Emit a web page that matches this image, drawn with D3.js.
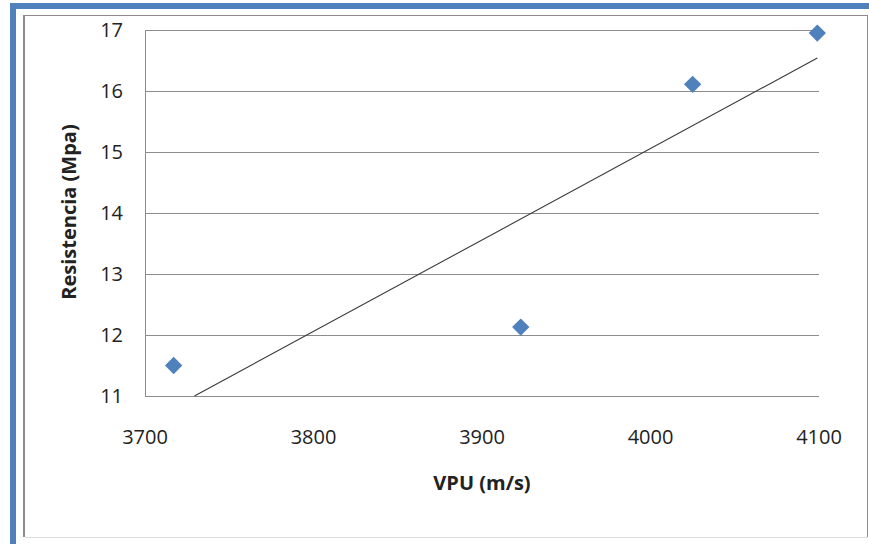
<!DOCTYPE html>
<html>
<head>
<meta charset="utf-8">
<script src="https://cdn.jsdelivr.net/npm/d3@7"></script>
<style>
  body { margin: 0; background: #fff; }
  svg { display: block; }
  text { font-family: "Open Sans", Lato, sans-serif; fill: #222; }
</style>
</head>
<body>
<div id="chart"></div>
<script>
// data
var vpu = [3717, 3923, 4025, 4099]
var resistencia = [11.5, 12.13, 16.11, 16.95]
var xTicks = [3700, 3800, 3900, 4000, 4100]
var yTicks = [11, 12, 13, 14, 15, 16, 17]

var W = 869
var H = 544
var margin = { top: 30, left: 145, right: 50, bottom: 148 }
var width = W - margin.left - margin.right
var height = H - margin.top - margin.bottom

var svg = d3.select('#chart')
  .append('svg')
  .attr('width', W)
  .attr('height', H)

// blue frame + gray chart frame
svg.append('rect').attr('x', 10).attr('y', 3).attr('width', W - 10).attr('height', 6).attr('fill', '#4F81BD')
svg.append('rect').attr('x', 10).attr('y', 3).attr('width', 6).attr('height', H - 3).attr('fill', '#4F81BD')
svg.append('line').attr('x1', 24).attr('x2', 24).attr('y1', 15).attr('y2', 537).attr('stroke', '#8c8c8c').attr('stroke-width', 2)
svg.append('line').attr('x1', 23).attr('x2', 868).attr('y1', 15.5).attr('y2', 15.5).attr('stroke', '#8c8c8c')
svg.append('line').attr('x1', 867.5).attr('x2', 867.5).attr('y1', 15).attr('y2', 537).attr('stroke', '#8c8c8c')
svg.append('line').attr('x1', 25).attr('x2', 868).attr('y1', 537.5).attr('y2', 537.5).attr('stroke', '#dcdcdc')

var g = svg.append('g').attr('transform', `translate(${margin.left},${margin.top})`)

var x = d3.scaleLinear().domain([3700, 4100]).range([0, width])
var y = d3.scaleLinear().domain([11, 17]).range([height, 0])

// gridlines
g.append('g')
  .selectAll('line')
  .data(yTicks)
  .enter()
  .append('line')
  .attr('x1', 0)
  .attr('x2', width)
  .attr('y1', d => Math.round(y(d)) + 0.5)
  .attr('y2', d => Math.round(y(d)) + 0.5)
  .attr('stroke', '#8c8c8c')

g.append('line')
  .attr('x1', 0.5).attr('x2', 0.5)
  .attr('y1', 0).attr('y2', height + 0.5)
  .attr('stroke', '#8c8c8c')

// tick labels
g.append('g')
  .selectAll('text')
  .data(yTicks)
  .enter()
  .append('text')
  .attr('x', -22)
  .attr('y', d => y(d))
  .attr('dy', '0.36em')
  .attr('text-anchor', 'end')
  .attr('font-size', 20)
  .text(d => d)

g.append('g')
  .selectAll('text')
  .data(xTicks)
  .enter()
  .append('text')
  .attr('x', d => x(d))
  .attr('y', height + 48)
  .attr('text-anchor', 'middle')
  .attr('font-size', 20)
  .text(d => d)

// linear trendline from least squares
var mx = d3.mean(vpu)
var my = d3.mean(resistencia)
var sxy = d3.sum(vpu, (v, i) => (v - mx) * (resistencia[i] - my))
var sxx = d3.sum(vpu, v => (v - mx) * (v - mx))
var slope = sxy / sxx
var icpt = my - slope * mx
var x0 = Math.max(d3.min(vpu), (11 - icpt) / slope)
var x1 = d3.max(vpu)

g.append('path')
  .attr('d', d3.line()([[x(x0), y(slope * x0 + icpt)], [x(x1), y(slope * x1 + icpt)]]))
  .attr('stroke', '#3a3a3a')
  .attr('stroke-width', 1.1)
  .attr('fill', 'none')

// diamond markers
var diamond = d3.symbol().type(d3.symbolSquare).size(150)
g.append('g')
  .selectAll('path')
  .data(vpu)
  .enter()
  .append('path')
  .attr('d', diamond)
  .attr('transform', (d, i) => `translate(${x(d)},${y(resistencia[i])}) rotate(45)`)
  .attr('fill', '#4F81BD')

// axis titles
svg.append('text')
  .attr('x', 482)
  .attr('y', 490)
  .attr('text-anchor', 'middle')
  .attr('font-size', 20)
  .attr('font-weight', 'bold')
  .text('VPU (m/s)')

svg.append('text')
  .attr('transform', 'translate(76,212) rotate(-90)')
  .attr('text-anchor', 'middle')
  .attr('font-size', 20)
  .attr('font-weight', 'bold')
  .text('Resistencia (Mpa)')
</script>
</body>
</html>
